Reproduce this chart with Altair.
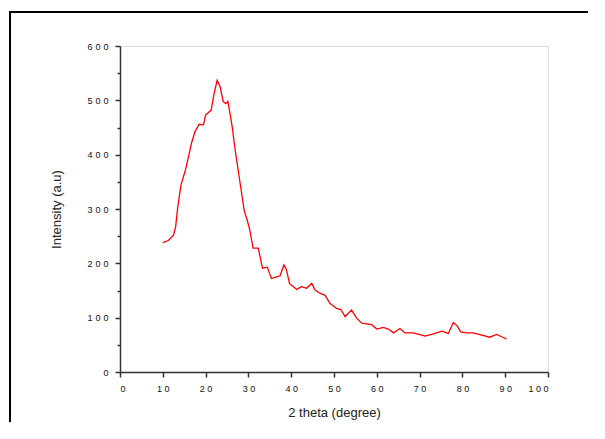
import altair as alt
import pandas as pd

two_theta = [10.0, 11.3, 12.5, 13.0, 13.5, 14.25, 15.3, 16.0, 16.7, 17.5, 18.5, 19.5, 20.0, 21.3,
             22.0, 22.7, 23.4, 24.1, 24.7, 25.2, 25.7, 26.2, 26.9, 27.6, 28.3, 29.0, 29.8, 30.3,
             31.1, 32.3, 33.3, 34.4, 35.4, 36.6, 37.4, 38.3, 38.9, 39.6, 41.3, 42.4, 43.6, 44.8,
             45.6, 46.7, 47.9, 49.1, 50.6, 51.6, 52.6, 54.1, 55.3, 56.5, 58.8, 60.0, 61.5, 62.7,
             63.9, 65.4, 66.6, 68.5, 70.1, 71.3, 73.2, 75.2, 76.7, 77.9, 78.8, 79.6, 81.0, 82.5,
             84.1, 86.4, 88.0, 89.4, 90.3]
intensity = [238, 242, 252, 267, 304, 344, 372, 396, 421, 442, 456, 455, 473, 482,
             513, 537, 525, 498, 494, 498, 476, 452, 409, 372, 335, 298, 277, 262,
             228, 228, 191, 193, 172, 175, 177, 197, 188, 163, 152, 157, 154, 163,
             151, 145, 141, 126, 117, 115, 102, 114, 99, 90, 87, 79, 82, 79,
             72, 80, 72, 72, 69, 66, 70, 75, 71, 91, 85, 74, 72, 72,
             69, 64, 69, 64, 61]

x_ticks = list(range(0, 101, 10))
y_ticks = list(range(0, 601, 50))

df = pd.DataFrame({"x": two_theta, "y": intensity})

x_spaced = "join(split(datum.label, ''), ' ')"
y_spaced = "join(split(datum.label, ''), '\u2004')"

line = alt.Chart(df).mark_line(color="#ff0000", strokeWidth=1.3).encode(
    x=alt.X("x:Q", scale=alt.Scale(domain=[0, 100], nice=False),
            axis=alt.Axis(title="2 theta (degree)", values=x_ticks, grid=False,
                          domainColor="#333333", domainWidth=1.5, tickColor="#333333",
                          tickWidth=1.5, tickSize=5, labelFontSize=9, labelFont="Liberation Sans",
                          labelColor="#111111", labelPadding=7, labelExpr=x_spaced,
                          titleFont="Liberation Sans", titleFontSize=13, titleFontWeight="normal",
                          titleColor="#222222", titlePadding=13)),
    y=alt.Y("y:Q", scale=alt.Scale(domain=[0, 600], nice=False),
            axis=alt.Axis(title="Intensity (a.u)", values=y_ticks, grid=False,
                          domainColor="#333333", domainWidth=1.5, tickColor="#333333",
                          tickWidth=1.5,
                          tickSize=alt.ExprRef(expr="datum.value % 100 === 0 ? 5 : 3"),
                          labelFontSize=9, labelFont="Liberation Sans", labelColor="#111111",
                          labelPadding=7,
                          labelExpr="datum.value % 100 === 0 ? " + y_spaced + " : ''",
                          titleFont="Liberation Sans", titleFontSize=13, titleFontWeight="normal",
                          titleColor="#222222", titlePadding=23)),
)

frame_df = pd.DataFrame({"a": [0]})
top_edge = alt.Chart(frame_df).mark_rule(color="black", strokeWidth=2, clip=False).encode(
    x=alt.value(-110), x2=alt.value(700), y=alt.value(-34))
left_edge = alt.Chart(frame_df).mark_rule(color="black", strokeWidth=2, clip=False).encode(
    x=alt.value(-110), y=alt.value(-35), y2=alt.value(600))

chart = alt.layer(top_edge, left_edge, line).properties(
    width=428, height=326,
    autosize=alt.AutoSizeParams(type="none"),
    padding={"left": 112, "top": 38, "right": 40, "bottom": 50},
).configure_view(stroke=None).configure(background="white")

chart.save("out.html", embed_options={"renderer": "svg", "actions": False})
